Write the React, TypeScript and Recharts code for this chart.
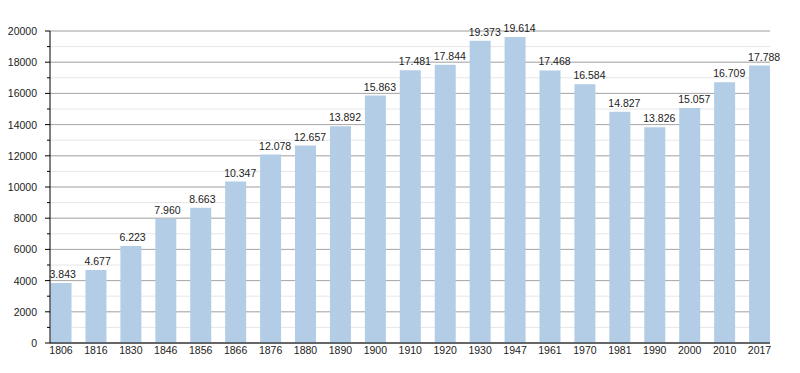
import { BarChart, Bar, XAxis, YAxis, CartesianGrid, LabelList } from 'recharts'

const years = ['1806', '1816', '1830', '1846', '1856', '1866', '1876', '1880', '1890', '1900', '1910', '1920', '1930', '1947', '1961', '1970', '1981', '1990', '2000', '2010', '2017']
const population = [3843, 4677, 6223, 7960, 8663, 10347, 12078, 12657, 13892, 15863, 17481, 17844, 19373, 19614, 17468, 16584, 14827, 13826, 15057, 16709, 17788]
const yTicks = [0, 1000, 2000, 3000, 4000, 5000, 6000, 7000, 8000, 9000, 10000, 11000, 12000, 13000, 14000, 15000, 16000, 17000, 18000, 19000, 20000]
const majorTicks = [0, 2000, 4000, 6000, 8000, 10000, 12000, 14000, 16000, 18000, 20000]

const data = years.map((year, i) => ({ i, year, pop: population[i] }))

const FONT = '"Liberation Sans", Arial, sans-serif'

// 17788 -> "17.788"
function fmt(v: number) {
  return String(v).replace(/\B(?=(\d{3})+(?!\d))/g, '.')
}

function YTick(props: any) {
  const { x, y, payload } = props
  const major = payload.value % 2000 === 0
  return (
    <g>
      <line x1={x - (major ? 5 : 3)} x2={x} y1={y} y2={y} stroke="#000" strokeWidth={1} />
      {major && (
        <text x={x - 13} y={y} dy={4} textAnchor="end" fontSize={10.5} fontFamily={FONT} fill="#222">
          {payload.value}
        </text>
      )}
    </g>
  )
}

function ValueLabel(props: any) {
  const { x, y, value } = props
  return (
    <text x={x - 1} y={y - 5} textAnchor="start" fontSize={10.5} fontFamily={FONT} fill="#222">
      {fmt(value)}
    </text>
  )
}

export default function App() {
  return (
    <div style={{ position: 'absolute', left: 0, top: 0, background: '#fff' }}>
      <BarChart width={800} height={373} data={data} margin={{ top: 31, right: 30, bottom: 0, left: 0 }}>
        <CartesianGrid vertical={false} stroke="#e6e6e6" />
        <CartesianGrid vertical={false} stroke="#a8a8a8" horizontalValues={majorTicks} />
        <XAxis
          dataKey="i"
          type="number"
          domain={[-0.315, 20.3]}
          ticks={years.map((_, i) => i)}
          tickFormatter={(v) => years[v]}
          interval={0}
          height={30}
          tickLine={false}
          tickSize={0}
          tickMargin={4}
          axisLine={{ stroke: '#000' }}
          tick={{ fontSize: 10.5, fontFamily: FONT, fill: '#222' }}
        />
        <YAxis
          domain={[0, 20000]}
          ticks={yTicks}
          interval={0}
          width={50}
          tickSize={0}
          tickMargin={0}
          axisLine={{ stroke: '#000' }}
          tick={<YTick />}
        />
        <Bar dataKey="pop" fill="#b3cde6" barSize={21} isAnimationActive={false}>
          <LabelList dataKey="pop" content={<ValueLabel />} />
        </Bar>
      </BarChart>
    </div>
  )
}
